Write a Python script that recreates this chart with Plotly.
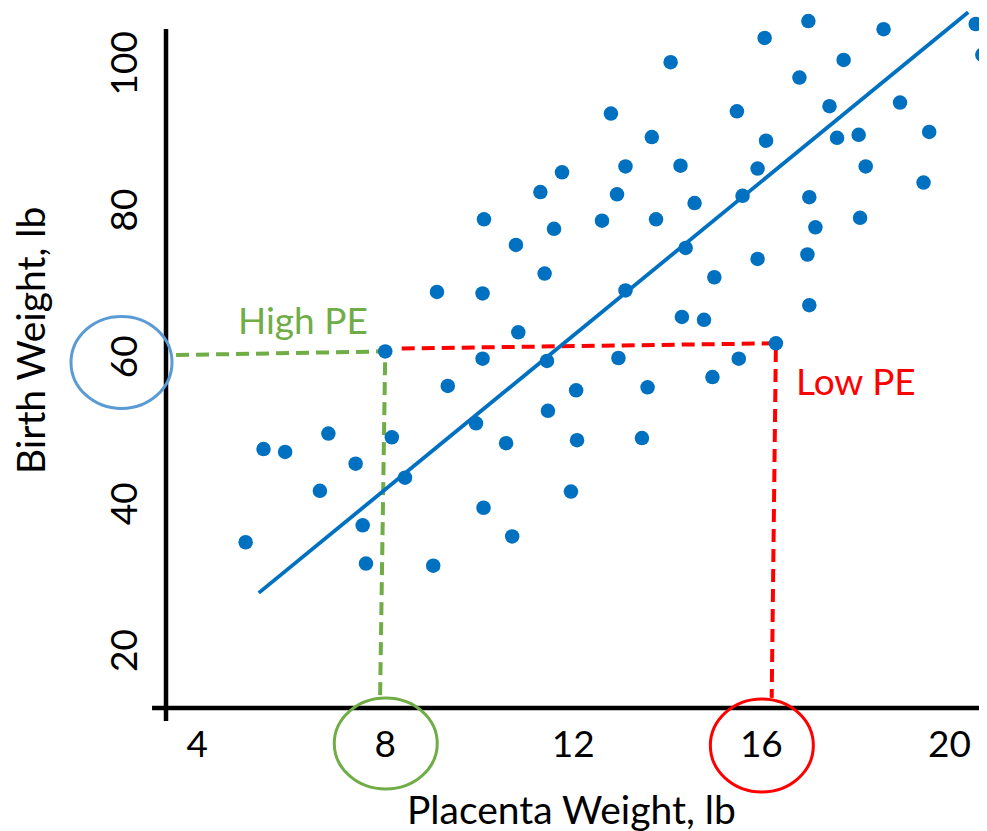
import plotly.graph_objects as go

# ---- data ----
placenta_lb = [14.07, 16.07, 17.00, 18.60, 20.56, 20.70, 17.75, 16.81, 12.80, 15.48,
               17.45, 18.95, 13.67, 16.10, 17.61, 18.07, 19.57, 11.76, 13.11, 14.28,
               15.92, 18.22, 19.45, 11.30, 12.93, 14.58, 15.60, 17.02, 18.10, 10.78,
               11.59, 12.61, 13.76, 17.15, 11.39, 14.39, 15.92, 16.98, 15.00, 13.11,
               17.02, 14.31, 14.78, 10.83, 16.31, 11.44, 12.96, 15.52, 14.96, 12.06,
               13.58, 11.46, 10.57, 12.08, 13.46, 11.95, 10.70, 6.79, 8.14, 5.41,
               5.87, 7.37, 6.61, 8.42, 9.93, 5.03, 7.52, 10.09, 7.59, 9.02,
               10.10, 9.10, 10.07, 8.00, 10.07, 9.33]
birth_lb = [100.9, 104.2, 106.5, 105.4, 106.1, 101.9, 101.2, 98.8, 93.9, 94.2,
            94.9, 95.4, 90.7, 90.2, 90.6, 91.0, 91.4, 85.9, 86.7, 86.8,
            86.4, 86.7, 84.5, 83.2, 82.9, 81.7, 82.7, 82.5, 79.7, 76.0,
            78.2, 79.3, 79.5, 78.4, 72.1, 75.6, 74.1, 74.7, 71.6, 69.8,
            67.8, 66.2, 65.8, 64.1, 62.6, 60.2, 60.6, 60.5, 58.0, 56.2,
            56.6, 53.4, 49.0, 49.4, 49.7, 42.4, 36.3, 50.3, 49.8, 48.2,
            47.8, 46.2, 42.5, 44.3, 51.7, 35.5, 37.8, 40.2, 32.6, 32.3,
            79.5, 69.6, 69.4, 61.5, 60.5, 56.8]

fit_x = [5.31, 20.40]
fit_y = [28.6, 107.7]

high_pe_x = [3.55, 8.00, 7.89]
high_pe_y = [61.0, 61.5, 14.3]
low_pe_x = [8.35, 16.31, 16.22]
low_pe_y = [61.9, 62.6, 14.3]

x_ticks = [4, 8, 12, 16, 20]
y_ticks = [20, 40, 60, 80, 100]

FONT = "Lato"
BLUE = "#0070C0"
GREEN = "#70AD47"
RED = "#FF0000"

fig = go.Figure()

fig.add_trace(go.Scatter(x=high_pe_x, y=high_pe_y, mode="lines",
                         line=dict(color=GREEN, width=4, dash="13px,7px"),
                         hoverinfo="skip"))
fig.add_trace(go.Scatter(x=low_pe_x, y=low_pe_y, mode="lines",
                         line=dict(color=RED, width=4, dash="13px,7px"),
                         hoverinfo="skip"))
fig.add_trace(go.Scatter(x=fit_x, y=fit_y, mode="lines",
                         line=dict(color=BLUE, width=3.8)))
fig.add_trace(go.Scatter(x=placenta_lb, y=birth_lb, mode="markers",
                         marker=dict(color=BLUE, size=14.5, line=dict(width=0))))

# axis lines (with overhang like the reference)
fig.add_shape(type="line", xref="paper", yref="paper", x0=0, x1=0,
              y0=-0.0186, y1=0.97, line=dict(color="black", width=4.5))
fig.add_shape(type="line", xref="paper", yref="paper", x0=-0.017, x1=1,
              y0=0, y1=0, line=dict(color="black", width=4.5))

# circles around the highlighted tick labels
fig.add_shape(type="circle", xref="paper", xsizemode="pixel", xanchor=0, x0=-95, x1=6,
              yref="y", ysizemode="pixel", yanchor=60, y0=-46, y1=46,
              line=dict(color="#5B9BD5", width=3))
fig.add_shape(type="circle", xref="x", xsizemode="pixel", xanchor=8, x0=-51, x1=52,
              yref="paper", ysizemode="pixel", yanchor=0, y0=-81, y1=10,
              line=dict(color=GREEN, width=3))
fig.add_shape(type="circle", xref="x", xsizemode="pixel", xanchor=16, x0=-51, x1=52,
              yref="paper", ysizemode="pixel", yanchor=0, y0=-84, y1=9,
              line=dict(color=RED, width=3))

fig.add_annotation(x=6.25, y=65.8, xref="x", yref="y", text="High PE", showarrow=False,
                   xanchor="center", yanchor="middle",
                   font=dict(family=FONT, size=37, color=GREEN))
fig.add_annotation(x=18.02, y=57.6, xref="x", yref="y", text="Low PE", showarrow=False,
                   xanchor="center", yanchor="middle",
                   font=dict(family=FONT, size=37, color=RED))
fig.add_annotation(x=0.4945, y=-0.1443, xref="paper", yref="paper",
                   text="Placenta Weight, lb", showarrow=False,
                   xanchor="center", yanchor="middle",
                   font=dict(family=FONT, size=39, color="black"))
fig.add_annotation(x=-0.1657, y=0.5257, xref="paper", yref="paper",
                   text="Birth Weight, lb", showarrow=False, textangle=-90,
                   xanchor="center", yanchor="middle",
                   font=dict(family=FONT, size=39, color="black"))

fig.update_layout(
    width=979, height=823,
    margin=dict(l=158, r=0, t=0, b=123),
    paper_bgcolor="white", plot_bgcolor="white",
    showlegend=False,
    font=dict(family=FONT, color="black"),
    xaxis=dict(range=[3.336, 20.80], tickvals=x_ticks, ticktext=[str(v) for v in x_ticks],
               showgrid=False, zeroline=False, showline=False,
               ticks="outside", ticklen=4, tickcolor="rgba(0,0,0,0)",
               tickfont=dict(family=FONT, size=37, color="black")),
    yaxis=dict(range=[12.92, 108.28], tickvals=y_ticks, ticktext=[str(v) for v in y_ticks],
               showgrid=False, zeroline=False, showline=False,
               ticks="outside", ticklen=13, tickcolor="rgba(0,0,0,0)", tickangle=-90,
               tickfont=dict(family=FONT, size=37, color="black")),
)

fig.write_html("out.html")
